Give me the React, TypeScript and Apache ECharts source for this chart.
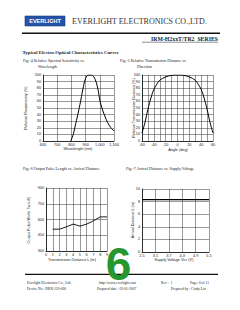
import React, { useEffect, useRef } from "react";
import * as echarts from "echarts";

// Fig.-4 Relative Spectral Sensitivity vs Wavelength
const wavelengths = [795, 810, 826, 845, 860, 875, 888, 900, 912, 925, 940, 955, 968, 980, 990, 1000, 1015, 1035, 1055, 1075, 1100];
const responsivity = [0, 8, 22, 40, 55, 72, 86, 95, 99, 100, 100, 98, 93, 85, 75, 62, 50, 38, 28, 21, 15];

// Fig.-5 Relative Transmission Distance vs Direction
const angles = [-60, -55, -50, -45, -40, -35, -30, -20, -10, 0, 10, 20, 30, 35, 40, 45, 50, 55, 60];
const transDist = [12, 28, 48, 65, 78, 86, 92, 97, 99.5, 100, 99.5, 97, 92, 86, 78, 65, 48, 28, 12];

// Fig.-6 Output Pulse Length vs Arrival Distance
const distances = [1, 2, 3, 4, 5, 6, 7, 8, 9];
const pulseWidth = [508, 508, 530, 556, 537, 556, 587, 625, 625];

// Fig.-7 Arrival Distance vs Supply Voltage
const voltages = ["2.5", "2.8", "3.1", "3.4", "3.7", "4.0", "4.3", "4.6", "4.9", "5.2", "5.5"];
const arrival = [8.3, 8.3, 8.3, 8.3, 8.3, 8.3, 8.3, 8.3, 8.3, 8.3, 8.3];

const SERIF = "Liberation Serif";
const SANS = "Liberation Sans";

export default function App() {
  const ref = useRef<HTMLDivElement>(null);
  useEffect(() => {
    if (!ref.current) return;
    const chart = echarts.init(ref.current, undefined, { renderer: "svg" });
    const grid = "#333";
    const axisCommon = (extra: any) => ({
      axisLine: { show: true, onZero: false, lineStyle: { color: "#111", width: 0.8 } },
      axisTick: { show: false },
      splitLine: { show: true, lineStyle: { color: grid, width: 0.5 } },
      axisLabel: { fontSize: 3.8, color: "#222", fontFamily: SANS, margin: 2 },
      ...extra,
    });
    const t = (text: string, x: number, y: number, o: any = {}) => ({
      type: "text",
      x,
      y,
      rotation: o.rotation || 0,
      z: o.z || 10,
      style: {
        text,
        fontSize: o.fs || 4.2,
        fontFamily: o.ff || SERIF,
        fontWeight: o.fw || "normal",
        fill: o.fill || "#222",
        textAlign: o.align || "left",
        textVerticalAlign: "middle",
      },
    });
    chart.setOption({
      animation: false,
      backgroundColor: "#fff",
      grid: [
        { left: 43, top: 75, width: 71, height: 66 },
        { left: 142, top: 75, width: 71, height: 66 },
        { left: 46, top: 188, width: 61, height: 63 },
        { left: 142, top: 189, width: 67, height: 63 },
      ],
      xAxis: [
        axisCommon({ type: "value", gridIndex: 0, min: 600, max: 1100, interval: 100 }),
        axisCommon({
          type: "value", gridIndex: 1, min: -60, max: 60, interval: 20,
          minorTick: { show: false, splitNumber: 2 },
          minorSplitLine: { show: true, lineStyle: { color: grid, width: 0.5 } },
        }),
        axisCommon({ type: "value", gridIndex: 2, min: 0, max: 9, interval: 1 }),
        axisCommon({ type: "category", gridIndex: 3, data: voltages, boundaryGap: false }),
      ],
      yAxis: [
        axisCommon({ type: "value", gridIndex: 0, min: 0, max: 100, interval: 10 }),
        axisCommon({ type: "value", gridIndex: 1, min: 0, max: 100, interval: 10 }),
        axisCommon({ type: "value", gridIndex: 2, min: 300, max: 900, interval: 150 }),
        axisCommon({ type: "value", gridIndex: 3, min: 0, max: 10, interval: 2 }),
      ],
      series: [
        {
          type: "line", xAxisIndex: 0, yAxisIndex: 0, smooth: 0.4, symbol: "none",
          lineStyle: { color: "#000", width: 1 },
          data: wavelengths.map((w, i) => [w, responsivity[i]]),
        },
        {
          type: "line", xAxisIndex: 1, yAxisIndex: 1, smooth: 0.4, symbol: "none",
          lineStyle: { color: "#000", width: 1 },
          data: angles.map((a, i) => [a, transDist[i]]),
        },
        {
          type: "line", xAxisIndex: 2, yAxisIndex: 2, symbol: "none",
          lineStyle: { color: "#000", width: 0.9 },
          data: distances.map((d, i) => [d, pulseWidth[i]]),
        },
        {
          type: "line", xAxisIndex: 3, yAxisIndex: 3, symbol: "none",
          lineStyle: { color: "#000", width: 1.2 },
          data: arrival,
        },
      ],
      graphic: [
        { type: "rect", shape: { x: 25, y: 16, width: 40, height: 10 }, style: { fill: "#2553a8", stroke: "#1a3a80", lineWidth: 0.6 } },
        t("EVERLIGHT", 45, 21.2, { fs: 5.5, ff: SANS, fw: "bold", fill: "#fff", align: "center" }),
        t("EVERLIGHT ELECTRONICS CO.,LTD.", 72, 21, { fs: 8, fill: "#333" }),
        { type: "line", shape: { x1: 22, y1: 33.3, x2: 220, y2: 33.3 }, style: { stroke: "#111", lineWidth: 1.4 } },
        t("IRM-H2xxT/TR2  SERIES", 218, 39, { fs: 5.8, fw: "bold", align: "right", fill: "#222" }),
        { type: "line", shape: { x1: 142, y1: 42.2, x2: 218, y2: 42.2 }, style: { stroke: "#222", lineWidth: 0.5 } },
        t("Typical Electro-Optical Characteristics Curves", 22.5, 52, { fs: 4.8, fw: "bold" }),
        t("Fig.-4 Relative Spectral Sensitivity vs", 23, 60.7, { fs: 4 }),
        t("Wavelength", 38, 66.7, { fs: 4 }),
        t("Fig.-5 Relative Transmission Distance vs", 120, 60.7, { fs: 4 }),
        t("Direction", 137, 66.7, { fs: 4 }),
        t("Relative Responsivity (%)", 25.5, 108, { fs: 3.8, ff: SANS, rotation: Math.PI / 2, align: "center" }),
        t("Wavelength (nm)", 78, 149, { fs: 3.8, ff: SANS, align: "center" }),
        t("Relative Transmission Distance (%)", 134, 108, { fs: 3.8, ff: SANS, rotation: Math.PI / 2, align: "center" }),
        t("Angle (deg)", 178, 149.5, { fs: 3.8, ff: SANS, align: "center" }),
        t("Fig.-6 Output Pulse Length vs. Arrival Distance", 23, 168.5, { fs: 4 }),
        t("Fig.-7 Arrival Distance vs. Supply Voltage", 126, 168.5, { fs: 4 }),
        t("Output Pulse Width Tw (uS)", 29, 220, { fs: 3.8, ff: SANS, rotation: Math.PI / 2, align: "center" }),
        t("Transmission Distance L (m)", 72, 260, { fs: 3.8, ff: SANS, align: "center" }),
        t("Arrival Distance L (m)", 133, 220, { fs: 3.8, ff: SANS, rotation: Math.PI / 2, align: "center" }),
        t("Supply Voltage Vcc (V)", 174, 260, { fs: 3.8, ff: SANS, align: "center" }),
        { type: "line", shape: { x1: 25, y1: 274.3, x2: 218, y2: 274.3 }, style: { stroke: "#111", lineWidth: 1.2 } },
        t("Everlight Electronics Co., Ltd.", 27, 282.7, { fs: 3.6 }),
        t("Device No : DRX-120-000", 27, 289, { fs: 3.6 }),
        t("http://www.everlight.com", 99, 282.7, { fs: 3.6 }),
        t("Prepared date : 03-01-2007", 97, 289, { fs: 3.6 }),
        t("Rev :  1", 161, 282.7, { fs: 3.6 }),
        t("Page: 6 of 11", 190, 282.7, { fs: 3.6 }),
        t("Prepared by : Cindy Liu", 171, 289, { fs: 3.6 }),
        t("6", 118.5, 263.5, { fs: 46, ff: SANS, fw: "bold", fill: "#26962e", align: "center", z: 20 }),
      ],
    });
    return () => chart.dispose();
  }, []);
  return (
    <div
      ref={ref}
      style={{ position: "fixed", left: 0, top: 0, width: 240, height: 310, background: "#fff" }}
    />
  );
}
